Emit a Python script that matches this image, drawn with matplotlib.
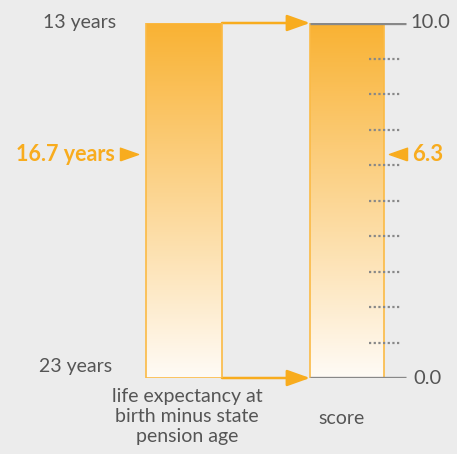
import matplotlib.pyplot as plt
import numpy as np

# scales and values
years_top, years_bottom = 13, 23
score_min, score_max = 0.0, 10.0
score_ticks = [1, 2, 3, 4, 5, 6, 7, 8, 9]
value_years = 16.7
value_score = 6.3
left_label = "life expectancy at\nbirth minus state\npension age"
right_label = "score"

bg = "#ECECEC"
orange = "#F8AC1E"
grey_text = "#555555"
grey_line = "#888888"

plt.rcParams['font.family'] = ['Lato', 'DejaVu Sans']

fig = plt.figure(figsize=(4.57, 4.54), dpi=100)
fig.patch.set_facecolor(bg)

# score axis (right bar)
ax = fig.add_axes([0, (454 - 378) / 454, 1, (378 - 23) / 454])
ax.set_facecolor(bg)
# years axis (left bar), inverted
ay = ax.twinx()

# gradient image
grad = np.linspace(0, 1, 256).reshape(-1, 1)
top_c = np.array([249, 178, 51]) / 255
bot_c = np.array([255, 251, 246]) / 255
img = top_c * (1 - grad[..., None]) + bot_c * grad[..., None]
img = img.reshape(256, 1, 3)

# left bar
lx, lw_ = 184, 76
bl = ay.bar(lx, years_bottom - years_top, bottom=years_top, width=lw_,
            facecolor='none', edgecolor='#FBBA45', linewidth=1.2, zorder=3)
im = ay.imshow(img, extent=(lx - lw_ / 2, lx + lw_ / 2, years_bottom, years_top),
               aspect='auto', zorder=2)
im.set_clip_path(bl.patches[0])

# right bar
rx, rw = 347, 74
br = ax.bar(rx, score_max - score_min, bottom=score_min, width=rw,
            facecolor='none', edgecolor='#FBBA45', linewidth=1.2, zorder=3)
im2 = ax.imshow(img, extent=(rx - rw / 2, rx + rw / 2, score_min, score_max),
                aspect='auto', zorder=2, origin='upper')
im2.set_clip_path(br.patches[0])

ax.set_xlim(0, 457)
ax.set_ylim(score_min, score_max)
ay.set_ylim(years_bottom, years_top)
ax.axis('off')
ay.axis('off')

# end lines of score scale
ax.hlines([score_min, score_max], rx - rw / 2, 406, color=grey_line, lw=2.4, zorder=4)
# dotted ticks
ax.hlines(score_ticks, 369, 400, color=grey_line, lw=1.6,
          linestyles=(0, (1, 1.1)), zorder=4)

# connecting arrows
for s in (score_min, score_max):
    ax.annotate('', xy=(rx - rw / 2, s), xytext=(lx + lw_ / 2, s),
                arrowprops=dict(arrowstyle='-|>,head_length=1.4,head_width=0.5',
                                color=orange, lw=1.8, shrinkA=0, shrinkB=0,
                                mutation_scale=10), zorder=5)

fs = 14
# scale end labels
ay.text(116, years_top, f"{years_top} years", ha='right', va='center',
        color=grey_text, fontsize=fs)
ay.annotate(f"{years_bottom} years", xy=(112, years_bottom), xytext=(0, 8),
            textcoords='offset points', ha='right', va='center',
            color=grey_text, fontsize=fs)
ax.text(410, score_max, f"{score_max:.1f}", ha='left', va='center',
        color=grey_text, fontsize=fs + 0.5)
ax.text(413, score_min, f"{score_min:.1f}", ha='left', va='center',
        color=grey_text, fontsize=fs + 0.5)

# value markers
tri_r = [(-1, -0.7), (1, 0), (-1, 0.7), (-1, -0.7)]
tri_l = [(1, -0.7), (-1, 0), (1, 0.7), (1, -0.7)]
ay.plot([129], [value_years], marker=tri_r, markersize=13, color=orange,
        linestyle='none', clip_on=False)
ay.text(115, value_years, f"{value_years} years", ha='right', va='center',
        color=orange, fontsize=15.5, fontweight='bold')
ax.plot([398], [value_score], marker=tri_l, markersize=13, color=orange,
        linestyle='none', clip_on=False)
ax.text(412, value_score, f"{value_score}", ha='left', va='center',
        color=orange, fontsize=16, fontweight='bold')

# axis names
ax.annotate(left_label, xy=(187, score_min), xytext=(0, -7),
            textcoords='offset points', ha='center', va='top',
            color=grey_text, fontsize=fs, linespacing=1.22)
ax.annotate(right_label, xy=(342, score_min), xytext=(0, -29),
            textcoords='offset points', ha='center', va='center',
            color=grey_text, fontsize=fs)

fig.savefig('out.png', dpi=100, facecolor=bg)
